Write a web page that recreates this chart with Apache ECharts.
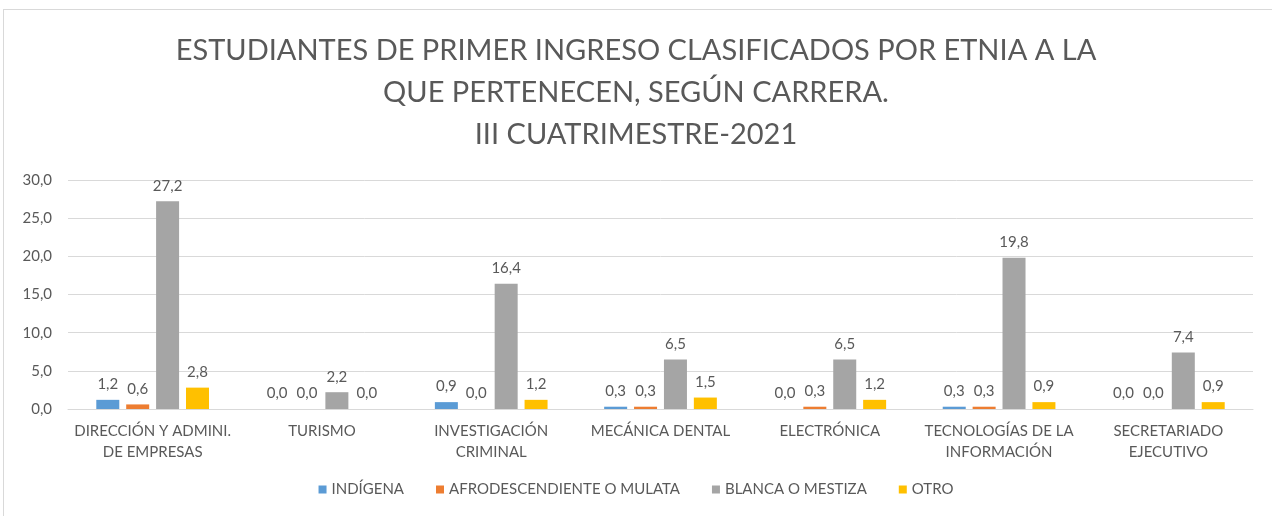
<!DOCTYPE html>
<html>
<head>
<meta charset="utf-8">
<script src="https://cdn.jsdelivr.net/npm/echarts@6/dist/echarts.min.js"></script>
<style>
  html, body { margin: 0; padding: 0; background: #fff; overflow: hidden; }
  #frame { position: absolute; left: 3px; top: 9px; width: 1300px; height: 600px; border: 1px solid #d9d9d9; box-sizing: border-box; }
  #chart { width: 1272px; height: 516px; }
</style>
</head>
<body>
<div id="frame"></div>
<div id="chart"></div>
<script>
var carreras = [
  "DIRECCIÓN Y ADMINI.\nDE EMPRESAS",
  "TURISMO",
  "INVESTIGACIÓN\nCRIMINAL",
  "MECÁNICA DENTAL",
  "ELECTRÓNICA",
  "TECNOLOGÍAS DE LA\nINFORMACIÓN",
  "SECRETARIADO\nEJECUTIVO"
];
var indigena = [1.2, 0.0, 0.9, 0.3, 0.0, 0.3, 0.0];
var afro = [0.6, 0.0, 0.0, 0.3, 0.3, 0.3, 0.0];
var blanca = [27.2, 2.2, 16.4, 6.5, 6.5, 19.8, 7.4];
var otro = [2.8, 0.0, 1.2, 1.5, 1.2, 0.9, 0.9];

var nombres = ["INDÍGENA", "AFRODESCENDIENTE O MULATA", "BLANCA O MESTIZA", "OTRO"];
var colores = ["#5B9BD5", "#ED7D31", "#A5A5A5", "#FFC000"];
var valores = [indigena, afro, blanca, otro];

var fuente = "Lato, 'Open Sans', sans-serif";
function coma(v) { return Number(v).toFixed(1).replace(".", ","); }

var myChart = echarts.init(document.getElementById("chart"));
var series = nombres.map(function (n, i) {
  return {
    name: n,
    type: "bar",
    data: valores[i],
    barWidth: 23,
    barGap: "30%",
    itemStyle: { color: colores[i] },
    label: {
      show: true,
      position: "top",
      distance: 8,
      color: "#595959",
      fontSize: 15,
      fontFamily: fuente,
      formatter: function (p) { return coma(p.value); }
    }
  };
});

var option = {
  backgroundColor: "transparent",
  title: {
    text: "ESTUDIANTES DE PRIMER INGRESO CLASIFICADOS POR ETNIA A LA\nQUE PERTENECEN, SEGÚN CARRERA.\nIII CUATRIMESTRE-2021",
    left: "center",
    top: 25,
    textStyle: {
      color: "#595959",
      fontSize: 29,
      fontWeight: "normal",
      fontFamily: fuente,
      lineHeight: 42
    }
  },
  legend: {
    data: nombres,
    bottom: 14,
    left: "center",
    itemWidth: 8,
    itemHeight: 8,
    itemGap: 32,
    icon: "rect",
    textStyle: { color: "#595959", fontSize: 15, fontFamily: fuente }
  },
  grid: { left: 68, right: 19, top: 180, bottom: 107 },
  xAxis: {
    type: "category",
    data: carreras,
    axisLine: { lineStyle: { color: "#d9d9d9" } },
    axisTick: { show: false },
    axisLabel: {
      interval: 0,
      color: "#595959",
      fontSize: 15,
      fontFamily: fuente,
      lineHeight: 21,
      margin: 12
    }
  },
  yAxis: {
    type: "value",
    min: 0,
    max: 30,
    interval: 5,
    axisLine: { show: false },
    axisTick: { show: false },
    splitLine: { lineStyle: { color: "#d9d9d9" } },
    axisLabel: {
      color: "#595959",
      fontSize: 15,
      fontFamily: fuente,
      margin: 16,
      formatter: coma
    }
  },
  series: series
};
myChart.setOption(option);
</script>
</body>
</html>
